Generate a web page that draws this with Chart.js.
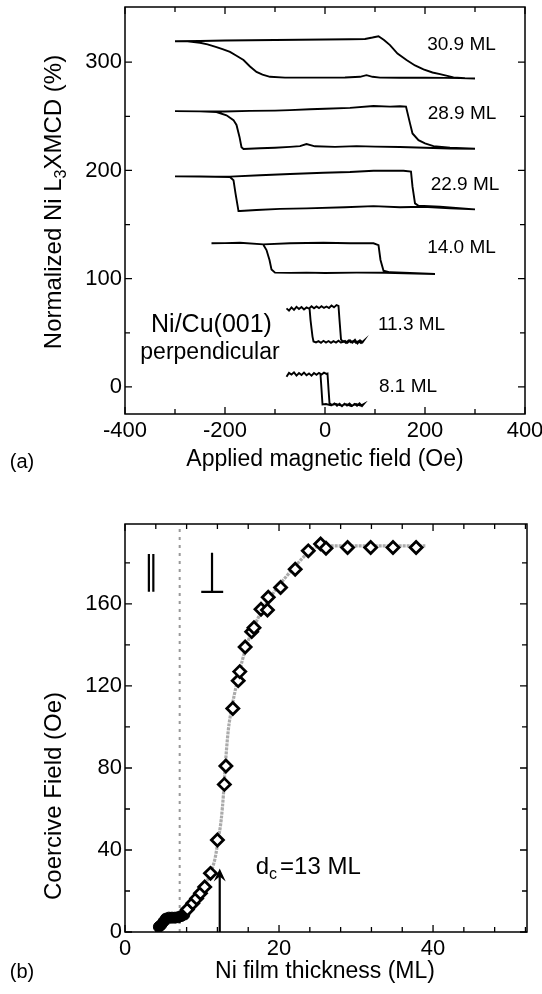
<!DOCTYPE html>
<html>
<head>
<meta charset="utf-8">
<script src="https://cdn.jsdelivr.net/npm/chart.js@4.4.1/dist/chart.umd.min.js"></script>
<style>
  html, body { margin: 0; padding: 0; background: #fff; }
  #wrap { position: relative; width: 542px; height: 994px; }
  #chartA { position: absolute; left: 0; top: 0; }
  #chartB { position: absolute; left: 0; top: 490px; }
</style>
</head>
<body>
<div id="wrap">
  <canvas id="chartA" width="542" height="490"></canvas>
  <canvas id="chartB" width="542" height="504"></canvas>
</div>
<script>
// ===== DATA (a): hysteresis loops, field (Oe) vs normalized XMCD (%) =====
const loopNames = ["30.9 ML", "28.9 ML", "22.9 ML", "14.0 ML", "11.3 ML", "8.1 ML"];

const field309 = [-300,-250,-200,-150,-100,-50,0,50,80,95,107,118,130,145,163,180,197,215,230,257,280,300,
  270,240,200,150,110,95,83,70,40,0,-40,-80,-110,-125,-137,-150,-163,-177,-190,-205,-217,-235,-250,-275,-300];
const xmcd309 = [319.3,319.6,320,320.3,320.5,320.8,321,321.2,321.5,322.8,324,320.5,315.8,308,302,297,293.3,290.5,289,286,285.3,285,
  285.3,285.5,285.6,285.6,285.8,286.5,288,286.5,285.9,285.8,285.8,285.8,286.5,288.5,291,296,302,306,309.5,312,314,316.5,318,319.2,319.3];

const field289 = [-300,-250,-200,-150,-100,-70,-30,0,50,97,130,150,162,170,175,187,200,217,250,300,
  250,200,150,100,63,20,-20,-37,-50,-70,-100,-130,-163,-167,-171,-177,-183,-197,-217,-250,-300];
const xmcd289 = [254.8,254.6,254.5,255,255.3,255.7,256.5,257,257.8,259.5,259,259.3,259,243.5,234.2,228,225,222.5,221,220,
  220.3,221,221.6,222,222.5,221.8,222.3,224.4,222.5,221.8,221,220.5,219.8,221.5,231,242,246.5,251,254,254.6,254.8];

const field229 = [-300,-250,-190,-130,-70,-3,50,97,157,172,175,180,187,230,300,
  250,197,150,97,40,-37,-90,-137,-170,-173,-179,-183,-190,-250,-300];
const xmcd229 = [194.5,194.3,194.3,195.5,196.7,197.9,198.5,199.7,199.7,199,185,169.6,167.4,166.5,164,
  165,166.5,166,167,166,165,164.5,163.4,162.5,162.5,178.8,191,194,194.4,194.5];

const field140 = [-227,-200,-170,-123,-70,-3,50,97,107,111,117,130,170,220,
  180,120,63,0,-37,-70,-100,-107,-111,-117,-123];
const xmcd140 = [132.7,132.9,133.2,131.7,132.7,133.2,132.7,132.7,131,117.3,107.4,105.9,105.2,104.3,
  104.8,105.5,105.6,105.2,105.6,105.4,105.6,108.6,117.3,126.5,131.2];

const field113 = [-77,-72,-67,-62,-57,-52,-47,-42,-37,-32,-27,-22,-17,-12,-7,-2,3,8,13,18,23,27,29,32,36,40,45,50,55,60,65,70,75,77,
  72,67,62,57,52,47,42,37,32,27,22,17,12,7,2,-3,-8,-13,-18,-23,-25,-27,-29,-31];
const xmcd113 = [72.6,70.5,73.5,71.2,74,72,73.8,71.5,73.4,72.3,74.5,72.6,74.4,72.8,74.6,73,74.3,72.9,75.2,73.5,75.6,74.8,62,44,41.5,42.6,40.8,43,41,43.5,40.2,43,41.2,42.5,
  40.5,42.3,40.8,42.6,41.2,42.9,40.6,42.4,40.9,42.7,41,42.3,40.7,42.4,41,42.6,40.8,42.3,41.1,42,46.5,54,62,73.2];

const field81 = [-77,-72,-67,-62,-57,-52,-47,-42,-37,-32,-27,-22,-17,-12,-7,-2,3,5,7,9,14,19,24,29,34,39,44,49,54,59,64,69,74,77,
  72,62,52,42,32,22,12,2,-5,-7,-9];
const xmcd81 = [9.5,13,11.5,13.5,10.5,12.8,11,13.2,10.8,12.5,10.4,12.8,11.2,13,11.5,13.2,12,12.3,-2,-15,-16.8,-15.2,-17.3,-15.5,-17.8,-15.6,-17.2,-15.4,-17.6,-15.8,-17.4,-15.2,-17.6,-16,
  -17.3,-15.8,-17.5,-15.9,-17.2,-15.7,-17,-15.8,-16.2,-2,11.5];

// label anchor points in data units (field, xmcd)
const loopLabelX = [273, 274, 280, 273, 173, 166];
const loopLabelY = [315.7, 252, 186.5, 128.3, 57.2, 0.3];

const fieldTickLabels = [-400, -200, 0, 200, 400];
const xmcdTickLabels = [0, 100, 200, 300];

// ===== DATA (b): coercive field vs Ni thickness =====
const thickPerp = [8.1,8.8,9.3,9.8,10.35,11.1,12.0,12.9,13.1,14.0,14.7,14.9,15.6,16.45,16.75,17.66,18.5,18.6,20.2,22.1,23.8,25.4,26.1,28.9,31.9,34.8,37.8];
const hcPerp = [11,14,16.4,18.9,22,28.6,44.9,72,81,109,122.6,127,139,146.5,148.4,157.4,157,163.3,168,176.9,185.9,189.3,187.2,187.5,187.5,187.5,187.5];

const thickPara = [4.4,4.7,5.0,5.3,5.7,6.1,6.5,6.9,7.3,7.7];
const hcPara = [2.5,3.5,5,6.5,7,7,7,7.2,7.8,8.5];

const thickFit = [4.2,5.0,6.0,7.0,8.0,9.0,10.0,11.0,11.7,12.1,12.5,12.8,13.0,13.4,13.9,14.5,15.2,16.0,17.0,18.0,19.0,20.2,22.0,23.8,25.3,39.0];
const hcFit = [1,3,5,7.5,10.5,15,20,28,36,45,55,68,80,98,110,121,132,142,151,158,164,170,178,185,188.3,188.3];

const reorientThick = 7.1;   // dotted boundary between || and ⊥
const dcThick = 12.3;        // arrow position
const dcArrowTop = 31;

const thickTickLabels = [0, 20, 40];
const hcTickLabels = [0, 40, 80, 120, 160];

// ===== HELPERS =====
const FONT = "'Liberation Sans', Arial, Helvetica, sans-serif";

function range(a, b, step) {
  const out = [];
  for (let v = a; v <= b + 1e-9; v += step) out.push(Math.round(v * 1000) / 1000);
  return out;
}
function pts(xs, ys) { return xs.map((v, i) => ({ x: v, y: ys[i] })); }

function drawRuns(ctx, runs, x, y, size, align, rot) {
  ctx.save();
  ctx.translate(x, y);
  if (rot) ctx.rotate(rot);
  const subSize = Math.round(size * 0.68);
  let total = 0;
  runs.forEach(r => {
    ctx.font = (r.sub ? subSize : size) + "px " + FONT;
    r.w = ctx.measureText(r.t).width;
    total += r.w + (r.dx || 0);
  });
  let cx = align === "center" ? -total / 2 : (align === "right" ? -total : 0);
  ctx.fillStyle = "#000";
  ctx.textAlign = "left";
  ctx.textBaseline = "middle";
  runs.forEach(r => {
    ctx.font = (r.sub ? subSize : size) + "px " + FONT;
    cx += (r.dx || 0);
    ctx.fillText(r.t, cx, r.sub ? size * 0.32 : 0);
    cx += r.w;
  });
  ctx.restore();
}

// frame + inward ticks on all four sides
const frameTicks = {
  id: "frameTicks",
  afterDatasetsDraw(chart, args, o) {
    const { ctx, chartArea: a } = chart;
    const sx = chart.scales.x, sy = chart.scales.y;
    const major = (v, step) => Math.abs(v / step - Math.round(v / step)) < 1e-6;
    ctx.save();
    ctx.strokeStyle = "#000";
    ctx.lineWidth = 1.5;
    ctx.strokeRect(a.left, a.top, a.right - a.left, a.bottom - a.top);
    ctx.lineWidth = 1.3;
    ctx.beginPath();
    sx.ticks.forEach(t => {
      const p = sx.getPixelForValue(t.value);
      const len = major(t.value, o.xMajor) ? 7 : 5;
      ctx.moveTo(p, a.bottom); ctx.lineTo(p, a.bottom - len);
      ctx.moveTo(p, a.top); ctx.lineTo(p, a.top + len);
    });
    sy.ticks.forEach(t => {
      const p = sy.getPixelForValue(t.value);
      const len = major(t.value, o.yMajor) ? 7 : 5;
      ctx.moveTo(a.left, p); ctx.lineTo(a.left + len, p);
      ctx.moveTo(a.right, p); ctx.lineTo(a.right - len, p);
    });
    ctx.stroke();
    ctx.restore();
  }
};

// free text: data-anchored (x,y) or canvas-anchored (px,py)
const notes = {
  id: "notes",
  afterDraw(chart, args, o) {
    const ctx = chart.ctx, sx = chart.scales.x, sy = chart.scales.y;
    (o.items || []).forEach(it => {
      const x = it.px !== undefined ? it.px : sx.getPixelForValue(it.x);
      const y = it.py !== undefined ? it.py : sy.getPixelForValue(it.y);
      drawRuns(ctx, it.runs, x, y, it.size, it.align || "center", it.rot || 0);
    });
  }
};

// (b) arrow head and the || / ⊥ symbols
const marksB = {
  id: "marksB",
  afterDatasetsDraw(chart) {
    const ctx = chart.ctx, sx = chart.scales.x, sy = chart.scales.y;
    const X = v => sx.getPixelForValue(v), Y = v => sy.getPixelForValue(v);
    ctx.save();
    // arrow head
    const ax = X(dcThick), ay = Y(dcArrowTop);
    ctx.fillStyle = "#000";
    ctx.beginPath();
    ctx.moveTo(ax, ay);
    ctx.lineTo(ax - 6, ay + 13);
    ctx.lineTo(ax, ay + 8);
    ctx.lineTo(ax + 6, ay + 13);
    ctx.closePath();
    ctx.fill();
    // || and ⊥
    ctx.strokeStyle = "#000";
    ctx.lineWidth = 2.2;
    ctx.beginPath();
    ctx.moveTo(X(3.1), Y(184.4)); ctx.lineTo(X(3.1), Y(165.9));
    ctx.moveTo(X(3.68), Y(184.4)); ctx.lineTo(X(3.68), Y(165.9));
    ctx.moveTo(X(11.3), Y(185)); ctx.lineTo(X(11.3), Y(165.9));
    ctx.moveTo(X(9.9), Y(165.9)); ctx.lineTo(X(12.75), Y(165.9));
    ctx.stroke();
    ctx.restore();
  }
};

function baseScale(min, max, step, majorStep, width, height, pad) {
  return {
    type: "linear", min: min, max: max,
    grid: { display: false, drawTicks: false, tickLength: 0 }, border: { display: false },
    afterBuildTicks: s => { s.ticks = range(min, max, step).map(v => ({ value: v })); },
    afterFit: s => {
      if (width) s.width = width;
      if (height) s.height = height;
      s.paddingLeft = 0; s.paddingRight = 0; s.paddingTop = 0; s.paddingBottom = 0;
    },
    ticks: {
      padding: pad, autoSkip: false, maxRotation: 0, color: "#000",
      font: { family: FONT, size: 22 },
      callback: v => (Math.abs(v / majorStep - Math.round(v / majorStep)) < 1e-6 ? v : "")
    }
  };
}

// ===== CHART (a) =====
const loopX = [field309, field289, field229, field140, field113, field81];
const loopY = [xmcd309, xmcd289, xmcd229, xmcd140, xmcd113, xmcd81];

const notesA = loopNames.map((n, i) => ({ runs: [{ t: n }], x: loopLabelX[i], y: loopLabelY[i], size: 19 }));
notesA.push({ runs: [{ t: "Ni/Cu(001)" }], x: -227, y: 57.2, size: 25 });
notesA.push({ runs: [{ t: "perpendicular" }], x: -230, y: 31.4, size: 23 });
notesA.push({ runs: [{ t: "Normalized Ni L" }, { t: "3", sub: true }, { t: "XMCD (%)" }], px: 54, py: 202, size: 24, rot: -Math.PI / 2 });
notesA.push({ runs: [{ t: "Applied magnetic field (Oe)" }], px: 325, py: 460, size: 23 });
notesA.push({ runs: [{ t: "(a)" }], px: 22, py: 462, size: 20 });

new Chart(document.getElementById("chartA"), {
  type: "scatter",
  data: {
    datasets: loopX.map((xs, i) => ({
      label: loopNames[i],
      data: pts(xs, loopY[i]),
      showLine: true, borderColor: "#000", borderWidth: 1.9,
      pointRadius: 0, tension: 0, fill: false
    }))
  },
  options: {
    responsive: false, animation: false, devicePixelRatio: 1,
    layout: { padding: { left: 0, right: 17, top: 7, bottom: 0 } },
    plugins: {
      legend: { display: false }, tooltip: { enabled: false },
      frameTicks: { xMajor: 200, yMajor: 100 },
      notes: { items: notesA }
    },
    scales: {
      x: baseScale(fieldTickLabels[0], fieldTickLabels[fieldTickLabels.length - 1], 100, 200, 0, 76, 4),
      y: Object.assign(baseScale(-25, 351, 50, 100, 125, 0, 3), {
        afterBuildTicks: s => { s.ticks = range(xmcdTickLabels[0], xmcdTickLabels[xmcdTickLabels.length - 1], 50).map(v => ({ value: v })); }
      })
    }
  },
  plugins: [frameTicks, notes]
});

// ===== CHART (b) =====
const notesB = [
  { runs: [{ t: "d" }, { t: "c", sub: true }, { t: "=13 ML", dx: 3 }], x: 16.97, y: 31.7, size: 24, align: "left" },
  { runs: [{ t: "Coercive Field (Oe)" }], px: 54, py: 306, size: 24, rot: -Math.PI / 2 },
  { runs: [{ t: "Ni film thickness (ML)" }], px: 325, py: 482, size: 23 },
  { runs: [{ t: "(b)" }], px: 22, py: 482, size: 20 }
];

new Chart(document.getElementById("chartB"), {
  type: "scatter",
  data: {
    datasets: [
      { label: "perpendicular", data: pts(thickPerp, hcPerp), pointStyle: "rectRot", pointRadius: 6,
        borderColor: "#000", backgroundColor: "#fff", borderWidth: 2.8, order: 1 },
      { label: "in-plane", data: pts(thickPara, hcPara), pointStyle: "circle", pointRadius: 5.5,
        borderColor: "#000", backgroundColor: "#000", borderWidth: 1, order: 2 },
      { label: "arrow", data: pts([dcThick, dcThick], [0, dcArrowTop - 3]), showLine: true,
        borderColor: "#000", borderWidth: 2.2, pointRadius: 0, order: 3 },
      { label: "fit", data: pts(thickFit, hcFit), showLine: true, cubicInterpolationMode: "monotone",
        borderColor: "#ababab", borderWidth: 3.2, borderDash: [3, 1], pointRadius: 0, order: 4 },
      { label: "boundary", data: pts([reorientThick, reorientThick], [0, 199]), showLine: true,
        borderColor: "#999999", borderWidth: 2, borderDash: [3, 5], pointRadius: 0, order: 5 }
    ]
  },
  options: {
    responsive: false, animation: false, devicePixelRatio: 1,
    layout: { padding: { left: 0, right: 15, top: 34, bottom: 0 } },
    plugins: {
      legend: { display: false }, tooltip: { enabled: false },
      frameTicks: { xMajor: 20, yMajor: 40 },
      notes: { items: notesB }
    },
    scales: {
      x: Object.assign(baseScale(0, 52.2, 4, 20, 0, 62, 4), {
        afterBuildTicks: s => { s.ticks = range(thickTickLabels[0], 52, 4).map(v => ({ value: v })); }
      }),
      y: Object.assign(baseScale(0, 199, 20, 40, 125, 0, 3), {
        afterBuildTicks: s => { s.ticks = range(hcTickLabels[0], 180, 20).map(v => ({ value: v })); }
      })
    }
  },
  plugins: [frameTicks, notes, marksB]
});
</script>
</body>
</html>
